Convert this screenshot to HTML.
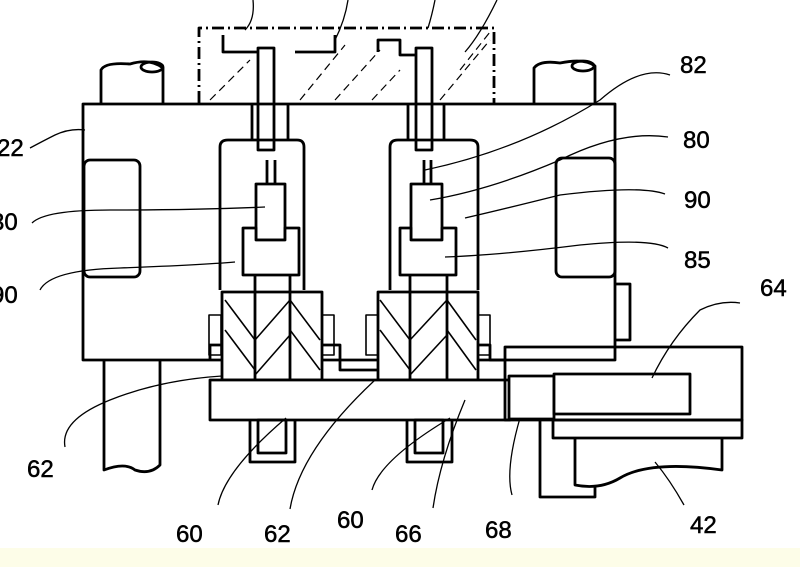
<!DOCTYPE html>
<html><head><style>
html,body{margin:0;padding:0;background:#fff;}
svg{display:block}
text{font-family:"Liberation Sans Narrow","Liberation Sans",sans-serif;font-size:24px;fill:#000;stroke:#000;stroke-width:0.5}
</style></head><body>
<svg width="800" height="567" viewBox="0 0 800 567" xmlns="http://www.w3.org/2000/svg">
<rect x="0" y="548" width="800" height="19" fill="#fdfde8"/>
<g fill="none" stroke="#000" stroke-width="2.8" stroke-linejoin="round">
<!-- pillars top -->
<path d="M101 103 V70 Q105 62 130 64 Q150 58 163 68 V103" fill="#fff"/>
<ellipse cx="152" cy="67" rx="11" ry="5"/>
<path d="M534 103 V68 Q540 60 560 63 Q585 58 595 66 V103" fill="#fff"/>
<ellipse cx="583" cy="66" rx="11" ry="5"/>
<!-- top dash block -->
<path d="M199 103 V28 H494 V103" stroke-dasharray="12,4,2,4"/>
<path d="M223 35 V52 H258 M295 52 H335 V35" />
<path d="M378 52 V40 H400 V55 H415"/>
<g stroke-width="1.2" stroke-dasharray="8,5">
<line x1="210" y1="100" x2="250" y2="60"/><line x1="300" y1="100" x2="345" y2="45"/>
<line x1="335" y1="100" x2="380" y2="50"/><line x1="372" y1="100" x2="400" y2="70"/>
<line x1="440" y1="100" x2="490" y2="40"/><line x1="460" y1="70" x2="490" y2="32"/>
</g>
<!-- main block -->
<rect x="83" y="104" width="532" height="256" fill="none"/>
<rect x="84" y="160" width="56" height="117" rx="6"/>
<rect x="556" y="158" width="59" height="119" rx="6"/>
<!-- pins -->
<rect x="258" y="48" width="16" height="102"/>
<rect x="416" y="48" width="16" height="102"/>
<line x1="252" y1="104" x2="252" y2="140"/><line x1="288" y1="104" x2="288" y2="140"/>
<line x1="408" y1="104" x2="408" y2="140"/><line x1="444" y1="104" x2="444" y2="140"/>
<!-- cavities -->
<path d="M220 290 V147 Q220 140 228 140 H297 Q304 140 304 147 V290"/>
<path d="M390 290 V147 Q390 140 398 140 H470 Q478 140 478 147 V290"/>
<!-- 80 / 85 blocks -->
<line x1="267" y1="160" x2="267" y2="184"/><line x1="275" y1="160" x2="275" y2="184"/>
<line x1="424" y1="160" x2="424" y2="184"/><line x1="431" y1="160" x2="431" y2="184"/>
<rect x="256" y="184" width="29" height="56" fill="#fff"/>
<path d="M243 228 H256 V240 H285 V228 H299 V275 H243 Z" fill="#fff"/>
<rect x="411" y="184" width="31" height="56" fill="#fff"/>
<path d="M400 228 H411 V240 H442 V228 H456 V275 H400 Z" fill="#fff"/>
<!-- gear stacks -->
<rect x="222" y="292" width="100" height="88" fill="#fff"/>
<line x1="255" y1="275" x2="255" y2="380"/><line x1="290" y1="275" x2="290" y2="380"/>
<rect x="378" y="292" width="100" height="88" fill="#fff"/>
<line x1="410" y1="275" x2="410" y2="380"/><line x1="447" y1="275" x2="447" y2="380"/>
<path d="M322 345 H340 V370 H378"/>
<path d="M210 360 V345 H222 M478 345 H490 V360 H505"/>
<g stroke-width="1.6">
<line x1="225" y1="300" x2="255" y2="340"/><line x1="225" y1="330" x2="255" y2="370"/>
<line x1="290" y1="300" x2="320" y2="340"/><line x1="290" y1="330" x2="320" y2="370"/>
<line x1="380" y1="300" x2="410" y2="340"/><line x1="380" y1="330" x2="410" y2="370"/>
<line x1="447" y1="300" x2="476" y2="340"/><line x1="447" y1="330" x2="476" y2="370"/>
<line x1="255" y1="340" x2="290" y2="300"/><line x1="410" y1="340" x2="447" y2="300"/>
<line x1="255" y1="375" x2="290" y2="335"/><line x1="410" y1="375" x2="447" y2="335"/>
</g>
<g stroke-width="1.6">
<rect x="209" y="315" width="12" height="40"/><rect x="322" y="315" width="12" height="40"/>
<rect x="366" y="315" width="12" height="40"/><rect x="478" y="315" width="12" height="40"/>
</g>
<!-- shaft -->
<rect x="210" y="380" width="300" height="40" fill="#fff"/>
<rect x="509" y="376" width="45" height="43" fill="#fff"/>
<!-- lower parts -->
<path d="M104 360 V470 Q125 462 135 470 Q150 475 160 465 V360"/>
<path d="M250 420 V462 H295 V420"/><rect x="258" y="420" width="28" height="33"/>
<path d="M407 420 V462 H452 V420"/><rect x="415" y="420" width="28" height="33"/>
<!-- right box -->
<rect x="505" y="347" width="237" height="73"/>
<rect x="554" y="374" width="136" height="40" fill="#fff"/>
<rect x="553" y="420" width="189" height="18"/>
<path d="M575 438 V485 Q600 490 620 478 Q650 460 722 470 V438"/>
<path d="M540 420 V497 H595 V486"/>
<path d="M616 284 H630 V340 H616"/>
</g>
<!-- leaders -->
<g fill="none" stroke="#000" stroke-width="1.3">
<path d="M253 0 Q255 20 245 30"/>
<path d="M348 0 Q345 20 335 40"/>
<path d="M435 0 Q432 15 428 28"/>
<path d="M497 0 Q480 35 465 52"/>
<path d="M30 148 Q45 140 55 135 Q70 128 85 130"/>
<path d="M32 223 Q45 210 110 210 Q200 210 265 207"/>
<path d="M40 290 Q50 270 120 268 Q200 265 235 262"/>
<path d="M670 75 Q640 65 600 100 Q520 150 425 170"/>
<path d="M668 137 Q620 130 560 160 Q490 190 430 200"/>
<path d="M665 194 Q640 185 560 195 Q500 210 465 218"/>
<path d="M668 248 Q650 238 580 245 Q500 255 445 257"/>
<path d="M740 303 Q720 300 700 310 Q670 340 652 378"/>
<path d="M65 447 Q60 420 110 400 Q160 380 222 376"/>
<path d="M218 505 Q225 470 286 418"/>
<path d="M290 509 Q300 450 375 380"/>
<path d="M372 490 Q380 460 450 418"/>
<path d="M433 508 Q440 460 465 400"/>
<path d="M512 495 Q505 470 520 418"/>
<path d="M684 505 Q670 480 655 462"/>
</g>
<text x="-3" y="156">22</text>
<text x="-9" y="230">30</text>
<text x="-9" y="303">90</text>
<text x="680" y="73">82</text>
<text x="683" y="148">80</text>
<text x="684" y="208">90</text>
<text x="684" y="268">85</text>
<text x="760" y="296">64</text>
<text x="27" y="477">62</text>
<text x="176" y="542">60</text>
<text x="264" y="542">62</text>
<text x="337" y="528">60</text>
<text x="395" y="542">66</text>
<text x="485" y="538">68</text>
<text x="690" y="533">42</text>
</svg>
</body></html>
